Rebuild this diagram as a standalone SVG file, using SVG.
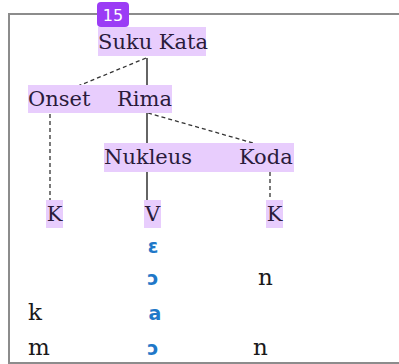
<svg xmlns="http://www.w3.org/2000/svg" width="399" height="364" viewBox="0 0 399 364">
  <style>
    .hl { fill: #e8cdfd; }
    .lbl { font-family: "DejaVu Serif", "Liberation Serif", serif; font-size: 21px; fill: #2a1b3b; }
    .seg { font-family: "DejaVu Serif", "Liberation Serif", serif; font-size: 23px; fill: #1a1a1a; }
    .vow { font-family: "DejaVu Sans", "Liberation Sans", sans-serif; font-size: 19px; font-weight: bold; fill: #1f78c8; text-anchor: middle; }
    .solid { stroke: #111; stroke-width: 1.3; fill: none; }
    .dash { stroke: #333; stroke-width: 1.3; stroke-dasharray: 4 3; fill: none; }
  </style>
  <rect width="399" height="364" fill="#ffffff"/>
  <!-- frame -->
  <path d="M399 14 H9 V363 H399" fill="none" stroke="#8c8c8c" stroke-width="2"/>

  <!-- connectors -->
  <g id="connectors">
    <line class="solid" x1="147" y1="58" x2="147" y2="86"/>
    <line class="dash" x1="146" y1="58" x2="66" y2="91"/>
    <line class="solid" x1="147" y1="113" x2="147" y2="143"/>
    <line class="dash" x1="148" y1="113" x2="260" y2="145"/>
    <line class="dash" x1="50" y1="114" x2="50" y2="200"/>
    <line class="solid" x1="147" y1="172" x2="147" y2="200"/>
    <line class="dash" x1="270" y1="172" x2="270" y2="200"/>
  </g>

  <g id="badge">
    <rect x="97" y="2" width="32" height="25" rx="4" fill="#9b3cf5"/>
    <text x="113" y="21" font-family="DejaVu Sans, sans-serif" font-size="16" fill="#ffffff" text-anchor="middle">15</text>
  </g>

  <g id="suku-kata">
    <rect class="hl" x="98" y="27" width="108" height="29"/>
    <text class="lbl" x="98" y="49">Suku Kata</text>
  </g>

  <g id="onset">
    <rect class="hl" x="28" y="85" width="80" height="28"/>
    <text class="lbl" x="28" y="106">Onset</text>
  </g>
  <g id="rima">
    <rect class="hl" x="108" y="85" width="64" height="28"/>
    <text class="lbl" x="117" y="106">Rima</text>
  </g>

  <g id="nukleus">
    <rect class="hl" x="104" y="143" width="110" height="29"/>
    <text class="lbl" x="104" y="164">Nukleus</text>
  </g>
  <g id="koda">
    <rect class="hl" x="214" y="143" width="80" height="29"/>
    <text class="lbl" x="239" y="164">Koda</text>
  </g>

  <g id="k-onset">
    <rect class="hl" x="46" y="200" width="17" height="28"/>
    <text class="lbl" x="54.5" y="221" text-anchor="middle">K</text>
  </g>
  <g id="v-nukleus">
    <rect class="hl" x="144" y="200" width="17" height="28"/>
    <text class="lbl" x="152.5" y="221" text-anchor="middle">V</text>
  </g>
  <g id="k-koda">
    <rect class="hl" x="266" y="200" width="17" height="28"/>
    <text class="lbl" x="274.5" y="221" text-anchor="middle">K</text>
  </g>

  <!-- segment rows -->
  <g id="rows">
    <text class="vow" x="153" y="253">ɛ</text>
    <text class="vow" x="153" y="285">ɔ</text>
    <text class="seg" x="258" y="285">n</text>
    <text class="seg" x="28" y="320">k</text>
    <text class="vow" x="155" y="320">a</text>
    <text class="seg" x="28" y="355">m</text>
    <text class="vow" x="153" y="355">ɔ</text>
    <text class="seg" x="253" y="355">n</text>
  </g>
</svg>
